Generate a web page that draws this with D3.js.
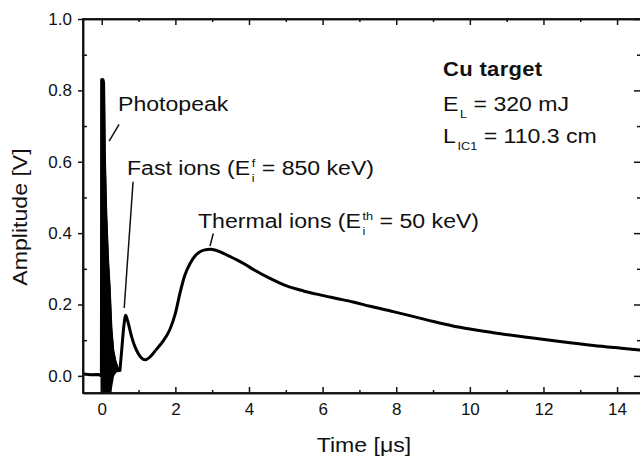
<!DOCTYPE html>
<html>
<head>
<meta charset="utf-8">
<script src="https://cdn.jsdelivr.net/npm/d3@7"></script>
<style>
  body { margin: 0; background: #fff; }
  svg { display: block; font-family: "Liberation Sans", Arial, sans-serif; }
  .axis text { font-size: 17px; fill: #111; }
  .axis path, .axis line { stroke: #111; stroke-width: 1.5; }
</style>
</head>
<body>
<div id="vizContainer"></div>
<script>
// time axis (microseconds) and recorded amplitude (V)
const timeUs = [-0.51, -0.3, -0.1, -0.01, 0.0, 0.03, 0.05, 0.07, 0.11, 0.16, 0.2, 0.25, 0.3, 0.36, 0.42,
  0.49, 0.54, 0.6, 0.65, 0.7, 0.81, 0.9, 0.99, 1.08, 1.17, 1.3, 1.49, 1.65, 1.85, 2.0, 2.12, 2.25,
  2.4, 2.55, 2.67, 2.8, 2.94, 3.1, 3.25, 3.45, 3.67, 3.9, 4.12, 4.57, 5.02, 5.48, 5.93, 6.38, 6.83,
  7.29, 7.92, 8.83, 9.73, 10.64, 11.55, 12.45, 13.36, 14.26, 14.65];
const amplitude = [0.005, 0.003, 0.004, 0.0, 0.83, 0.83, 0.82, 0.62, 0.45, 0.32, 0.25, 0.13, 0.07, 0.04, 0.022,
  0.012, 0.07, 0.14, 0.17, 0.155, 0.11, 0.082, 0.063, 0.05, 0.045, 0.052, 0.075, 0.095, 0.13, 0.175, 0.23, 0.28,
  0.315, 0.338, 0.348, 0.353, 0.355, 0.352, 0.346, 0.336, 0.325, 0.312, 0.298, 0.273, 0.252, 0.238, 0.227, 0.217, 0.207,
  0.195, 0.18, 0.157, 0.136, 0.121, 0.108, 0.096, 0.085, 0.076, 0.072];

// photopeak: fast oscillation, drawn as a filled envelope
const peakTime = [0.0, 0.03, 0.05, 0.07, 0.11, 0.16, 0.2, 0.25, 0.3, 0.36, 0.42];
const peakHigh = [0.83, 0.83, 0.82, 0.62, 0.45, 0.32, 0.25, 0.13, 0.07, 0.04, 0.022];
const peakLow = [-0.07, -0.07, -0.07, -0.07, -0.07, -0.07, -0.07, -0.03, 0.0, 0.01, 0.015];

const xMajor = [0, 2, 4, 6, 8, 10, 12, 14];
const xMinor = [1, 3, 5, 7, 9, 11, 13];
const yMajor = [0.0, 0.2, 0.4, 0.6, 0.8, 1.0];
const yMinor = [0.1, 0.3, 0.5, 0.7, 0.9];

const width = 640, height = 456;
const margin = { top: 19, right: -1, bottom: 63, left: 83 };
const stretch = 1.1; // the original lettering is a bit wider than Arial

const svg = d3.select("#vizContainer").append("svg")
  .attr("width", width).attr("height", height);

const x = d3.scaleLinear().domain([-0.51, 14.65]).range([margin.left, width - margin.right]);
const y = d3.scaleLinear().domain([-0.048, 1.0]).range([height - margin.bottom, margin.top]);

svg.append("clipPath").attr("id", "plotClip")
  .append("rect")
  .attr("x", x.range()[0]).attr("y", y.range()[1])
  .attr("width", x.range()[1] - x.range()[0])
  .attr("height", y.range()[0] - y.range()[1]);

const plot = svg.append("g").attr("clip-path", "url(#plotClip)");

const peak = peakTime.map((t, i) => ({ t: t, hi: peakHigh[i], lo: peakLow[i] }));
plot.append("path")
  .datum(peak)
  .attr("d", d3.area().x(d => x(d.t)).y0(d => y(d.lo)).y1(d => y(d.hi)))
  .attr("fill", "#000")
  .attr("stroke", "#000")
  .attr("stroke-width", 2.5)
  .attr("stroke-linejoin", "round");

const trace = timeUs.map((t, i) => ({ t: t, v: amplitude[i] }));
const line = d3.line().x(d => x(d.t)).y(d => y(d.v));
// straight segments through the photopeak, smooth afterwards
plot.append("path")
  .datum(trace.filter(d => d.t <= 0.49))
  .attr("d", line.curve(d3.curveLinear))
  .attr("fill", "none").attr("stroke", "#000").attr("stroke-width", 3)
  .attr("stroke-linejoin", "round");
plot.append("path")
  .datum(trace.filter(d => d.t >= 0.49))
  .attr("d", line.curve(d3.curveMonotoneX))
  .attr("fill", "none").attr("stroke", "#000").attr("stroke-width", 3)
  .attr("stroke-linejoin", "round");

// axes
const bottom = height - margin.bottom;
svg.append("g").attr("class", "axis")
  .attr("transform", `translate(0,${bottom})`)
  .call(d3.axisBottom(x).tickValues(xMajor).tickSize(-6).tickSizeOuter(0).tickPadding(10).tickFormat(d3.format("d")));
svg.append("g").attr("class", "axis")
  .attr("transform", `translate(0,${bottom})`)
  .call(d3.axisBottom(x).tickValues(xMinor).tickSize(-3).tickSizeOuter(0).tickFormat(""));
svg.append("g").attr("class", "axis")
  .attr("transform", `translate(0,${margin.top})`)
  .call(d3.axisTop(x).tickValues(xMajor).tickSize(-6).tickSizeOuter(0).tickFormat(""));
svg.append("g").attr("class", "axis")
  .attr("transform", `translate(0,${margin.top})`)
  .call(d3.axisTop(x).tickValues(xMinor).tickSize(-3).tickSizeOuter(0).tickFormat(""));

svg.append("g").attr("class", "axis")
  .attr("transform", `translate(${margin.left},0)`)
  .call(d3.axisLeft(y).tickValues(yMajor).tickSize(5).tickSizeOuter(0).tickPadding(6).tickFormat(d3.format(".1f")));
svg.append("g").attr("class", "axis")
  .attr("transform", `translate(${margin.left},0)`)
  .call(d3.axisLeft(y).tickValues(yMinor).tickSize(-4).tickSizeOuter(0).tickFormat(""));
svg.append("g").attr("class", "axis")
  .attr("transform", `translate(${x.range()[1]},0)`)
  .call(d3.axisRight(y).tickValues(yMajor).tickSize(-7).tickSizeOuter(0).tickFormat(""));
svg.append("g").attr("class", "axis")
  .attr("transform", `translate(${x.range()[1]},0)`)
  .call(d3.axisRight(y).tickValues(yMinor).tickSize(-4).tickSizeOuter(0).tickFormat(""));

// axis titles
svg.append("text")
  .attr("transform", `translate(364,452) scale(${stretch},1)`)
  .attr("text-anchor", "middle").attr("font-size", 21).attr("fill", "#111")
  .text("Time [\u03bcs]");
svg.append("text")
  .attr("transform", `translate(27,217) rotate(-90) scale(${stretch},1)`)
  .attr("text-anchor", "middle").attr("font-size", 21).attr("fill", "#111")
  .text("Amplitude [V]");

// text with stacked sub/superscripts
function richText(parent, px, py, size, parts, weight) {
  const t = parent.append("text")
    .attr("transform", `translate(${px},${py}) scale(${stretch},1)`)
    .attr("font-size", size).attr("font-weight", weight || "normal");
  let shift = 0;
  parts.forEach(p => {
    if (typeof p === "string") {
      t.append("tspan").attr("dy", -shift).text(p);
      shift = 0;
    } else {
      const small = size * 0.55;
      let subLen = 0;
      if (p.sub) {
        const s = t.append("tspan").attr("dx", 1.5).attr("dy", 7 - shift).attr("font-size", small).text(p.sub);
        subLen = s.node().getComputedTextLength() + 1.5;
        shift = 7;
      }
      if (p.sup) {
        const s = t.append("tspan").attr("dx", -subLen + 1.5).attr("dy", -15).attr("font-size", small).text(p.sup);
        const supLen = s.node().getComputedTextLength() + 1.5;
        shift = -8;
        if (subLen > supLen) {
          t.append("tspan").attr("dx", subLen - supLen).text("");
        }
      }
    }
  });
  return t;
}

const notes = svg.append("g").attr("fill", "#111");
richText(notes, 118, 111, 21, ["Photopeak"]);
richText(notes, 127, 175, 21, ["Fast ions (E", { sub: "i", sup: "f" }, " = 850 keV)"]);
richText(notes, 198, 228, 21, ["Thermal ions (E", { sub: "i", sup: "th" }, " = 50 keV)"]);

richText(notes, 443, 76, 20, ["Cu target"], "bold").attr("letter-spacing", 0.3);
richText(notes, 443, 111, 21, ["E", { sub: "L" }, " = 320 mJ"]);
richText(notes, 443, 143, 21, ["L", { sub: "IC1" }, " = 110.3 cm"]);

// leader lines, given in data coordinates
const leaders = [
  [[0.47, 0.705], [0.2, 0.658]],
  [[0.85, 0.544], [0.61, 0.19]],
  [[3.03, 0.399], [2.94, 0.364]]
];
notes.selectAll("line.leader").data(leaders).enter().append("line")
  .attr("class", "leader")
  .attr("x1", d => x(d[0][0])).attr("y1", d => y(d[0][1]))
  .attr("x2", d => x(d[1][0])).attr("y2", d => y(d[1][1]))
  .attr("stroke", "#111").attr("stroke-width", 1.5);

// plot frame
svg.append("rect")
  .attr("x", x.range()[0]).attr("y", y.range()[1])
  .attr("width", x.range()[1] - x.range()[0])
  .attr("height", y.range()[0] - y.range()[1])
  .attr("fill", "none").attr("stroke", "#111").attr("stroke-width", 1.8);
</script>
</body>
</html>
